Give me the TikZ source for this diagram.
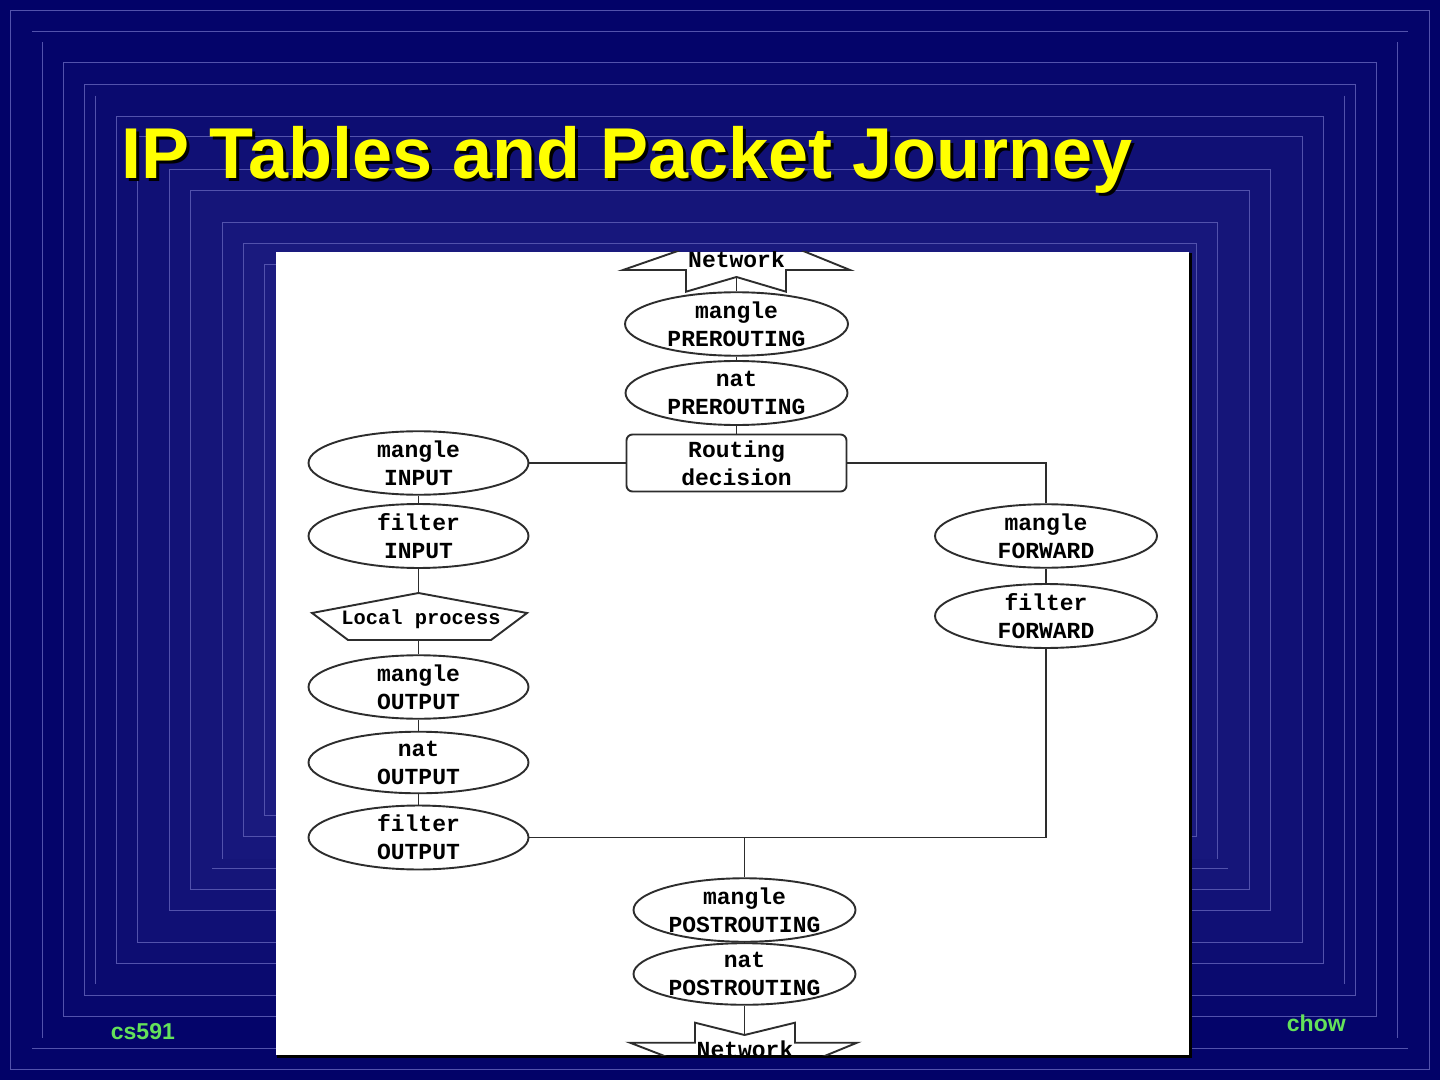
\documentclass[tikz,border=0pt]{standalone}
\usepackage{fontspec}
\setmainfont{Liberation Sans}
\newfontfamily\flowfam{Liberation Mono}
\usetikzlibrary{shapes.geometric}
\definecolor{bgout}{RGB}{2,2,104}
\definecolor{bgin}{RGB}{28,28,128}
\definecolor{bgline}{RGB}{82,82,172}
\definecolor{ttl}{RGB}{255,255,0}
\definecolor{foot}{RGB}{100,225,90}
\definecolor{ink}{RGB}{45,45,45}
\newcommand\flowfont{\flowfam\bfseries\fontsize{11.5}{14}\selectfont}
\newcommand\flowsmall{\flowfam\bfseries\fontsize{10.2}{13}\selectfont}
\begin{document}
\begin{tikzpicture}[x=0.5pt,y=-0.5pt,
  frame/.style={draw=bgline, line width=0.5pt},
  ell/.style={ellipse, draw=ink, line width=0.95pt, fill=white, inner sep=0pt,
    align=center, font=\flowfont, text=black},
  lcol/.style={ell, minimum width=110pt, minimum height=27.5pt},
  wire/.style={draw=ink, line width=0.85pt},
]
\useasboundingbox (0,0) rectangle (1440,1080);
% background gradient steps
\fill[bgout] (0,0) rectangle (1440,1080);
\fill[bgin!8!bgout] (10.3,10.3) rectangle (1429.3,1069);
\fill[bgin!20!bgout] (63.3,63) rectangle (1376.7,1016.7);
\fill[bgin!30!bgout] (84.3,84.3) rectangle (1355.5,995);
\fill[bgin!42!bgout] (116.3,116.3) rectangle (1323.5,963.3);
\fill[bgin!52!bgout] (137.3,137) rectangle (1302.3,942.3);
\fill[bgin!63!bgout] (169.7,169.7) rectangle (1270.5,910.3);
\fill[bgin!72!bgout] (190.7,190.7) rectangle (1249.3,889.3);
\fill[bgin!82!bgout] (222.3,222.3) rectangle (1217.3,859.3);
\fill[bgin!91!bgout] (243.3,243.3) rectangle (1196.7,836);
\fill[bgin] (264.3,264.3) rectangle (1175.7,815.7);
% frame lines
\draw[frame] (10.3,10.3) rectangle (1429.3,1069);
\draw[frame] (32,31.5) -- (1407.7,31.5) (32,1048.3) -- (1407.7,1048.3);
\draw[frame] (42.3,42.3) -- (42.3,1037.7) (1397.3,42.3) -- (1397.3,1037.7);
\draw[frame] (63.3,63) rectangle (1376.7,1016.7);
\draw[frame] (84.3,84.3) rectangle (1355.5,995);
\draw[frame] (95.7,95.7) -- (95.7,984.3) (1344.3,95.7) -- (1344.3,984.3);
\draw[frame] (116.3,116.3) rectangle (1323.5,963.3);
\draw[frame] (137.3,137) rectangle (1302.3,942.3);
\draw[frame] (169.7,169.7) rectangle (1270.5,910.3);
\draw[frame] (190.7,190.7) rectangle (1249.3,889.3);
\draw[frame] (222.3,859.3) -- (222.3,222.3) -- (1217.3,222.3) -- (1217.3,859.3);
\draw[frame] (212,868.3) -- (1228.3,868.3);
\draw[frame] (243.3,243.3) rectangle (1196.7,836);
\draw[frame] (264.3,264.3) rectangle (1175.7,815.7);
% title
\node[anchor=base west, inner sep=0pt, text=black,
  font=\bfseries\fontsize{36}{40}\selectfont] (tshadow) at (124.5,182) {IP Tables and Packet Journey};
\node[anchor=base west, inner sep=0pt, text=ttl,
  font=\bfseries\fontsize{36}{40}\selectfont] (title) at (121.5,178.5) {IP Tables and Packet Journey};
% footers
\node[anchor=base west, inner sep=0pt, text=foot, font=\bfseries\fontsize{11.5}{13}\selectfont] (cs) at (110.5,1039.3) {cs591};
\node[anchor=base west, inner sep=0pt, text=foot, font=\bfseries\fontsize{11.5}{13}\selectfont] (chow) at (1286.5,1031) {chow};
% panel
\fill[black] (277,253) rectangle (1192,1058);
\fill[white] (276,252) rectangle (1189,1055);
% flowchart nodes
\node[ell, minimum width=111.5pt, minimum height=31pt] (mpre) at (736.5,324) {mangle\\PREROUTING};
\node[ell, minimum width=111pt, minimum height=32pt] (npre) at (736.5,393) {nat\\PREROUTING};
\node[draw=ink, line width=0.95pt, rounded corners=3pt, fill=white, minimum width=110pt,
  minimum height=28.5pt, inner sep=0pt, align=center, font=\flowfont] (rd) at (736.5,463) {Routing\\decision};
\node[lcol] (min) at (418.5,463) {mangle\\INPUT};
\node[lcol] (fin) at (418.5,536) {filter\\INPUT};
\coordinate (lpt) at (418.5,593);
\coordinate (lpb) at (418.5,640);
\draw[draw=ink, line width=0.95pt] (312,613) -- (lpt) -- (527,613) -- (491,640) -- (348,640) -- cycle;
\node[inner sep=0pt, font=\flowsmall] (lp) at (421,619) {Local process};
\node[lcol] (mout) at (418.5,687) {mangle\\OUTPUT};
\node[lcol] (nout) at (418.5,762.5) {nat\\OUTPUT};
\node[lcol] (fout) at (418.5,837.5) {filter\\OUTPUT};
\node[ell, minimum width=111pt, minimum height=27.5pt] (mfw) at (1046,536) {mangle\\FORWARD};
\node[ell, minimum width=111pt, minimum height=27.5pt] (ffw) at (1046,616) {filter\\FORWARD};
\node[ell, minimum width=111pt, minimum height=26.5pt] (mpost) at (744.5,910) {mangle\\POSTROUTING};
\node[ell, minimum width=111pt, minimum height=26.5pt] (npost) at (744.5,974) {nat\\POSTROUTING};
\coordinate (ntop) at (736.5,277);
\coordinate (nbot) at (744.5,1035);
% connectors
\draw[wire] (ntop) -- (mpre.north);
\draw[wire] (mpre.south) -- (npre.north);
\draw[wire] (npre.south) -- (rd.north);
\draw[wire] (rd.west) -- (min.east);
\draw[wire] (rd.east) -| (mfw.north);
\draw[wire] (min.south) -- (fin.north);
\draw[wire] (fin.south) -- (lpt);
\draw[wire] (lpb) -- (mout.north);
\draw[wire] (mout.south) -- (nout.north);
\draw[wire] (nout.south) -- (fout.north);
\draw[wire] (mfw.south) -- (ffw.north);
\draw[wire] (ffw.south) |- (fout.east);
\coordinate (jn) at (mpost.north |- fout.east);
\draw[wire] (jn) -- (mpost.north);
\draw[wire] (mpost.south) -- (npost.north);
\draw[wire] (npost.south) -- (nbot);
% network shapes, clipped by the panel
\begin{scope}
\clip (276,252) rectangle (1189,1055);
\draw[draw=ink, line width=0.95pt] (695,245) -- (623,270) -- (686,270) -- (686,291.7) -- (ntop)
  -- (786,291.7) -- (786,270) -- (850,270) -- (788.5,245);
\node[inner sep=0pt, font=\flowfont] (net1) at (736.5,259) {Network};
\draw[draw=ink, line width=0.95pt] (680,1062) -- (630,1042.7) -- (695,1042.7) -- (695,1022.7) -- (nbot)
  -- (795,1022.7) -- (795,1042.7) -- (857,1042.7) -- (810,1062);
\node[inner sep=0pt, font=\flowfont] (net2) at (745,1049) {Network};
\end{scope}
\end{tikzpicture}
\end{document}
